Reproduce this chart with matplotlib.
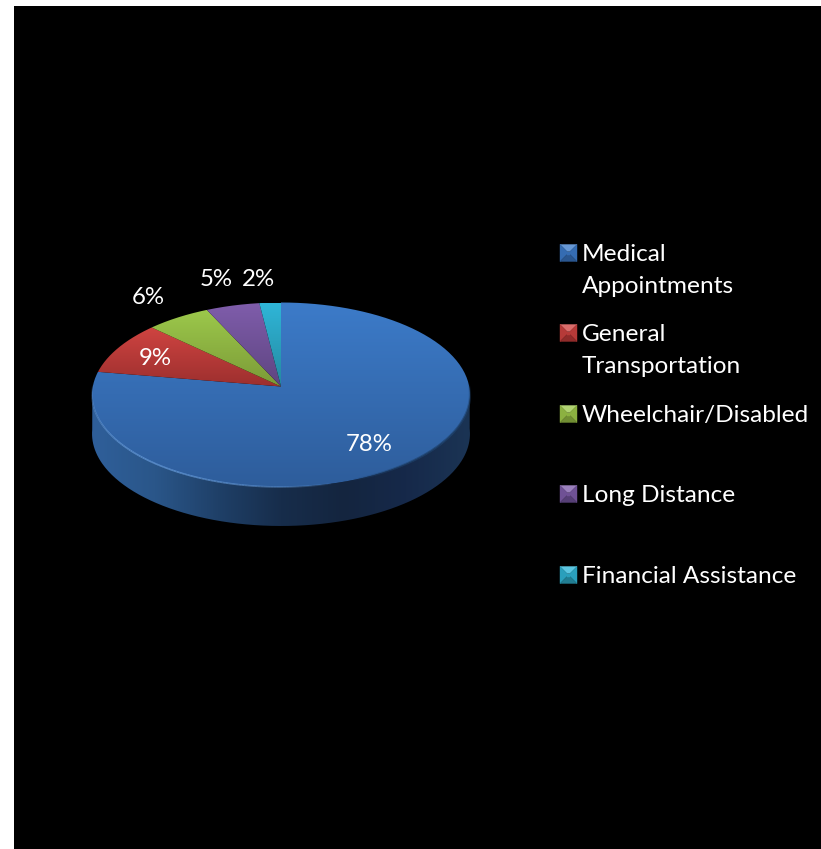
import numpy as np
import matplotlib
matplotlib.use('Agg')
import matplotlib.pyplot as plt
from matplotlib.path import Path
from matplotlib.patches import PathPatch, Polygon
from matplotlib.collections import LineCollection
from matplotlib.colors import LinearSegmentedColormap, to_rgb

# Data
categorias = ['Medical\nAppointments', 'General\nTransportation', 'Wheelchair/Disabled',
              'Long Distance', 'Financial Assistance']
valores = [77.6, 9.4, 6, 5, 2]

# Colours (top and bottom of each slice)
cores_topo = ['#3c7bc9', '#cf4441', '#9cc84b', '#7f5dab', '#2fb6d8']
cores_base = ['#2e5d9b', '#9c2f2e', '#7b9a37', '#5e4480', '#24889f']

# Pie geometry in pixels, tilted disc with perspective
cx, cy, larg, gama, alfa = 281, 386.5, 188.2, 0.0894, -56.95
prof = 39


def projeta(theta):
    # angle clockwise from 12 o'clock to picture position
    u, v = np.sin(theta), np.cos(theta)
    w = 1 + gama * v
    return cx + larg * u / w, (alfa * v + cy) / w


def preenche(ax, caminho, c1, c2, extent, horizontal=None):
    # gradient image cut to a path
    patch = PathPatch(caminho, fc='none', ec='none')
    ax.add_patch(patch)
    if horizontal is None:
        cmap = LinearSegmentedColormap.from_list('g', [c1, c2])
        dados = np.linspace(0, 1, 256).reshape(-1, 1)
    else:
        cmap = LinearSegmentedColormap.from_list('g', horizontal)
        dados = np.linspace(0, 1, 256).reshape(1, -1)
    im = ax.imshow(dados, cmap=cmap, extent=extent, aspect='auto', origin='upper',
                   interpolation='bilinear', zorder=patch.get_zorder())
    im.set_clip_path(patch)


def borda(ax, ini, fim, cor, lw, pico):
    # rim line that fades out towards both ends
    t = np.radians(np.linspace(ini, fim, 120))
    xs, ys = projeta(t)
    pts = np.column_stack([xs, ys]).reshape(-1, 1, 2)
    seg = np.concatenate([pts[:-1], pts[1:]], axis=1)
    alfas = pico * np.sin(np.linspace(0, np.pi, len(seg))) ** 0.6
    cores = [to_rgb(cor) + (a,) for a in alfas]
    ax.add_collection(LineCollection(seg, colors=cores, linewidths=lw, zorder=3))


fig = plt.figure(figsize=(8.21, 8.49), dpi=100, facecolor='white')
ax = fig.add_axes([0, 0, 1, 1])
ax.axis('off')
ax.add_patch(plt.Rectangle((14, 6), 807, 843, fc='black', ec='none', zorder=0))

# Side of the disc
t = np.linspace(np.radians(92), np.radians(268), 300)
xs, ys = projeta(t)
lado = np.vstack([np.column_stack([xs, ys]), np.column_stack([xs[::-1], ys[::-1] + prof])])
lado = np.vstack([lado, lado[:1]])
preenche(ax, Path(lado), None, None, (92, 470, 530, 380),
         horizontal=['#2f5f9a', '#2a5689', '#1f4068', '#172d4b', '#14253f', '#16294a', '#1b3454'])

# Top face, one gradient per slice
limites = np.cumsum([0] + valores) / sum(valores) * 2 * np.pi
for i in range(len(valores)):
    t = np.linspace(limites[i], limites[i + 1], 200)
    xs, ys = projeta(t)
    pts = np.column_stack([np.r_[cx, xs, cx], np.r_[cy, ys, cy]])
    ext = (pts[:, 0].min(), pts[:, 0].max(), pts[:, 1].max(), pts[:, 1].min())
    preenche(ax, Path(pts), cores_topo[i], cores_base[i], ext)

# Rim highlights on the front edge
borda(ax, 165, 272, '#6ba2e4', 1.2, 0.7)
borda(ax, 88, 160, '#1f426c', 1.6, 0.8)

# Value labels
pos_rotulos = [(369, 444), (155, 358), (148, 298), (216, 280), (258, 280)]
for v, (x, y) in zip(valores, pos_rotulos):
    ax.text(x, y, f'{v:.0f}%', color='white', fontsize=17.3, family='Lato', ha='center', va='center', zorder=4)

# Legend
pos_legenda = [253, 333, 414, 494, 575]
for nome, y, c1, c2 in zip(categorias, pos_legenda, cores_topo, cores_base):
    x0, x1, y0, y1 = 560, 577, y - 8.5, y + 8.5
    m = 7
    c1r, c2r = np.array(to_rgb(c1)), np.array(to_rgb(c2))
    claro = c1r + (1 - c1r) * 0.22
    centro = (c1r + c2r) / 2
    faces = [
        ([(x0, y0), (x1, y0), (x1 - m, y0 + m), (x0 + m, y0 + m)], claro),
        ([(x0, y0), (x0 + m, y0 + m), (x0 + m, y1 - m), (x0, y1)], centro),
        ([(x1, y0), (x1 - m, y0 + m), (x1 - m, y1 - m), (x1, y1)], centro),
        ([(x0, y1), (x0 + m, y1 - m), (x1 - m, y1 - m), (x1, y1)], c2r * 0.92),
        ([(x0 + m, y0 + m), (x1 - m, y0 + m), (x1 - m, y1 - m), (x0 + m, y1 - m)], centro),
    ]
    for pts, cor in faces:
        ax.add_patch(Polygon(pts, closed=True, fc=cor, ec=cor, lw=0.3, zorder=4))
    ax.text(582, y - 9, nome, color='white', fontsize=17.6, family='Lato', ha='left', va='top',
            linespacing=1.62, zorder=4)

ax.set_xlim(0, 821)
ax.set_ylim(849, 0)
fig.savefig('out.png', dpi=100, facecolor='white')
